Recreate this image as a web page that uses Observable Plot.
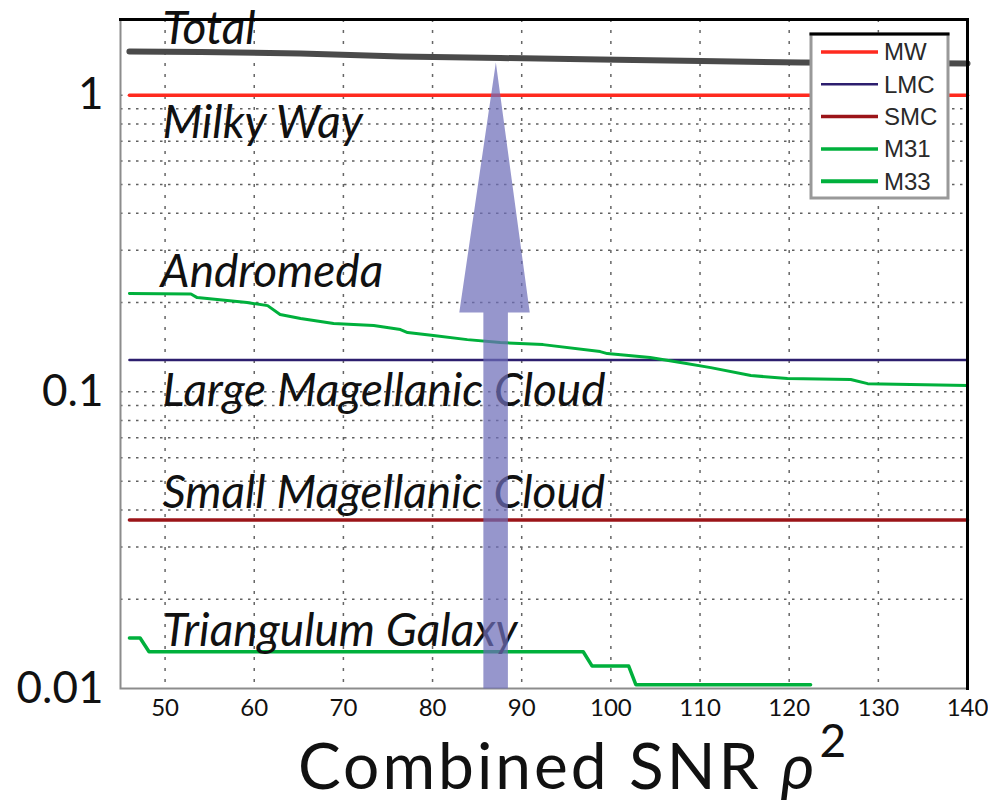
<!DOCTYPE html>
<html>
<head>
<meta charset="utf-8">
<script src="https://cdn.jsdelivr.net/npm/d3@7"></script>
<script src="https://cdn.jsdelivr.net/npm/@observablehq/plot@0.6"></script>
<style>
  body { margin: 0; background: #fff; }
  #wrap { position: relative; width: 988px; height: 805px; overflow: hidden; }
  #overlay { position: absolute; left: 0; top: 0; pointer-events: none; }
</style>
</head>
<body>
<div id="wrap"></div>
<script>
// Fraction of detectable sources per host galaxy vs. combined SNR threshold
const xDomain = [45, 140];
const yDomain = [0.01, 1.8];
const xTicks = [50, 60, 70, 80, 90, 100, 110, 120, 130, 140];
const yLabelTicks = [0.01, 0.1, 1];
const yGridTicks = [0.02, 0.03, 0.04, 0.05, 0.06, 0.07, 0.08, 0.09,
                    0.1, 0.2, 0.3, 0.4, 0.5, 0.6, 0.7, 0.8, 0.9, 1];

// SNR span covered by the flat curves
const snrSpan = [46, 140];
const mwFraction = 1;
const lmcFraction = 0.128;
const smcFraction = 0.037;

// Andromeda (M31)
const m31SNR = [46.0, 52.9, 53.6, 59.2, 61.5, 62.9, 65.2, 68.9, 73.4, 76.4, 77.2, 80.1,
                83.9, 87.6, 92.4, 98.8, 99.6, 104.4, 107.8, 111.2, 115.7, 119.8, 126.9, 128.8, 140.0];
const m31Fraction = [0.2145, 0.2137, 0.2079, 0.2000, 0.1953, 0.1822, 0.1767, 0.1699, 0.1673, 0.1622, 0.1584, 0.1548,
                     0.1500, 0.1466, 0.1443, 0.1367, 0.1346, 0.1305, 0.1256, 0.1207, 0.1135, 0.1109, 0.1100, 0.1066, 0.1050];

// Triangulum (M33)
const m33SNR = [46.0, 47.2, 48.2, 96.9, 97.9, 102.0, 102.8, 122.4];
const m33Fraction = [0.0148, 0.0148, 0.0133, 0.0133, 0.0119, 0.0119, 0.0103, 0.0103];

// Sum over all galaxies
const totalSNR = [46.0, 54.0, 65.2, 76.4, 87.6, 98.8, 110.1, 121.3, 140.0];
const totalFraction = [1.404, 1.399, 1.382, 1.351, 1.335, 1.319, 1.304, 1.289, 1.279];

// In-plot galaxy names
const labelText = ["Total", "Milky Way", "Andromeda", "Large Magellanic Cloud", "Small Magellanic Cloud", "Triangulum Galaxy"];
const labelSNR = [49.7, 49.7, 49.5, 49.7, 49.7, 49.7];
const labelFraction = [1.494, 0.720, 0.2265, 0.0899, 0.0407, 0.01395];

// Arrow marking the chosen SNR threshold
const arrowSNR = 87.1;
const arrowShaft = [85.7, 88.45];
const arrowHead = [83.0, 90.9];
const arrowHeadBase = 0.185;
const arrowTip = 1.289;

// Legend
const legendKeys = ["MW", "LMC", "SMC", "M31", "M33"];
const legendColors = ["#ff2a1f", "#2c1e6e", "#9b1418", "#00b03c", "#00b03c"];
const legendWidths = [3.5, 2.5, 3.5, 3.5, 4];

const flat = (v) => snrSpan.map(x => ({x, y: v}));
const toRows = (xs, ys) => xs.map((x, i) => ({x, y: ys[i]}));
const labels = labelText.map((t, i) => ({text: t, x: labelSNR[i], y: labelFraction[i]}));
const arrowOutline = [
  {x: arrowShaft[0], y: yDomain[0]},
  {x: arrowShaft[0], y: arrowHeadBase},
  {x: arrowHead[0], y: arrowHeadBase},
  {x: arrowSNR, y: arrowTip},
  {x: arrowHead[1], y: arrowHeadBase},
  {x: arrowShaft[1], y: arrowHeadBase},
  {x: arrowShaft[1], y: yDomain[0]}
];

const chart = Plot.plot({
  width: 988,
  height: 805,
  marginLeft: 120,
  marginRight: 21,
  marginTop: 19,
  marginBottom: 117,
  style: {fontFamily: "Lato, sans-serif", background: "#fff", color: "#111"},
  x: {type: "linear", domain: xDomain},
  y: {type: "log", domain: yDomain},
  marks: [
    Plot.ruleY(yGridTicks, {stroke: "#444", strokeWidth: 1.5, strokeDasharray: "2.5,5.5", strokeOpacity: 0.85}),
    Plot.ruleX(xTicks, {stroke: "#666", strokeWidth: 1.5, strokeDasharray: "3,8"}),
    Plot.frame({stroke: "#8c8c8c", strokeWidth: 2}),
    Plot.axisX({ticks: xTicks, tickSize: 0, tickPadding: 10, fontSize: 24, tickFormat: d => String(d), label: null}),
    Plot.axisY({ticks: yLabelTicks, tickSize: 0, tickPadding: 17, fontSize: 44, tickFormat: d => String(d), label: null}),
    Plot.line(toRows(totalSNR, totalFraction), {x: "x", y: "y", stroke: "#4a4a4a", strokeWidth: 6}),
    Plot.line(flat(mwFraction), {x: "x", y: "y", stroke: legendColors[0], strokeWidth: 3.5}),
    Plot.line(flat(lmcFraction), {x: "x", y: "y", stroke: legendColors[1], strokeWidth: 2.5}),
    Plot.line(flat(smcFraction), {x: "x", y: "y", stroke: legendColors[2], strokeWidth: 3.5}),
    Plot.line(toRows(m31SNR, m31Fraction), {x: "x", y: "y", stroke: legendColors[3], strokeWidth: 3}),
    Plot.line(toRows(m33SNR, m33Fraction), {x: "x", y: "y", stroke: legendColors[4], strokeWidth: 3.5}),
    Plot.text(labels, {x: "x", y: "y", text: "text", textAnchor: "start", lineAnchor: "bottom",
                       fontSize: 46, fontStyle: "italic", fill: "#111"}),
    Plot.line(arrowOutline, {x: "x", y: "y", fill: "#6d6db8", fillOpacity: 0.72, stroke: "none"}),
    Plot.frame({anchor: "top", stroke: "#000", strokeWidth: 3}),
    Plot.frame({anchor: "right", stroke: "#000", strokeWidth: 3})
  ]
});

const wrap = document.getElementById("wrap");
wrap.appendChild(chart);

// Axis title and legend box drawn on top of the chart
const overlay = d3.select(wrap).append("svg")
  .attr("id", "overlay")
  .attr("width", 988).attr("height", 805);

const title = overlay.append("text")
  .attr("x", 298).attr("y", 789)
  .attr("font-family", "Lato, sans-serif")
  .attr("font-size", 64)
  .attr("letter-spacing", 3)
  .attr("fill", "#111");
title.append("tspan").text("Combined SNR ");
title.append("tspan").attr("font-style", "italic").text("ρ");
title.append("tspan").attr("font-size", 46).attr("dy", -32).attr("dx", 2).text("2");

const lg = overlay.append("g");
lg.append("rect").attr("x", 811).attr("y", 34).attr("width", 137).attr("height", 164)
  .attr("fill", "#fff").attr("stroke", "#999").attr("stroke-width", 3);
lg.append("line").attr("x1", 809.5).attr("x2", 949.5).attr("y1", 34).attr("y2", 34)
  .attr("stroke", "#000").attr("stroke-width", 3);
const rows = lg.selectAll("g.row").data(legendKeys).join("g")
  .attr("transform", (d, i) => `translate(0,${52 + i * 32.3})`);
rows.append("line").attr("x1", 821).attr("x2", 878).attr("y1", 0).attr("y2", 0)
  .attr("stroke", (d, i) => legendColors[i])
  .attr("stroke-width", (d, i) => legendWidths[i]);
rows.append("text").attr("x", 884).attr("y", 0).attr("dy", "0.35em")
  .attr("font-family", "Liberation Sans, Arial, sans-serif")
  .attr("font-size", 24).attr("fill", "#2a2a2a")
  .text(d => d);
</script>
</body>
</html>
